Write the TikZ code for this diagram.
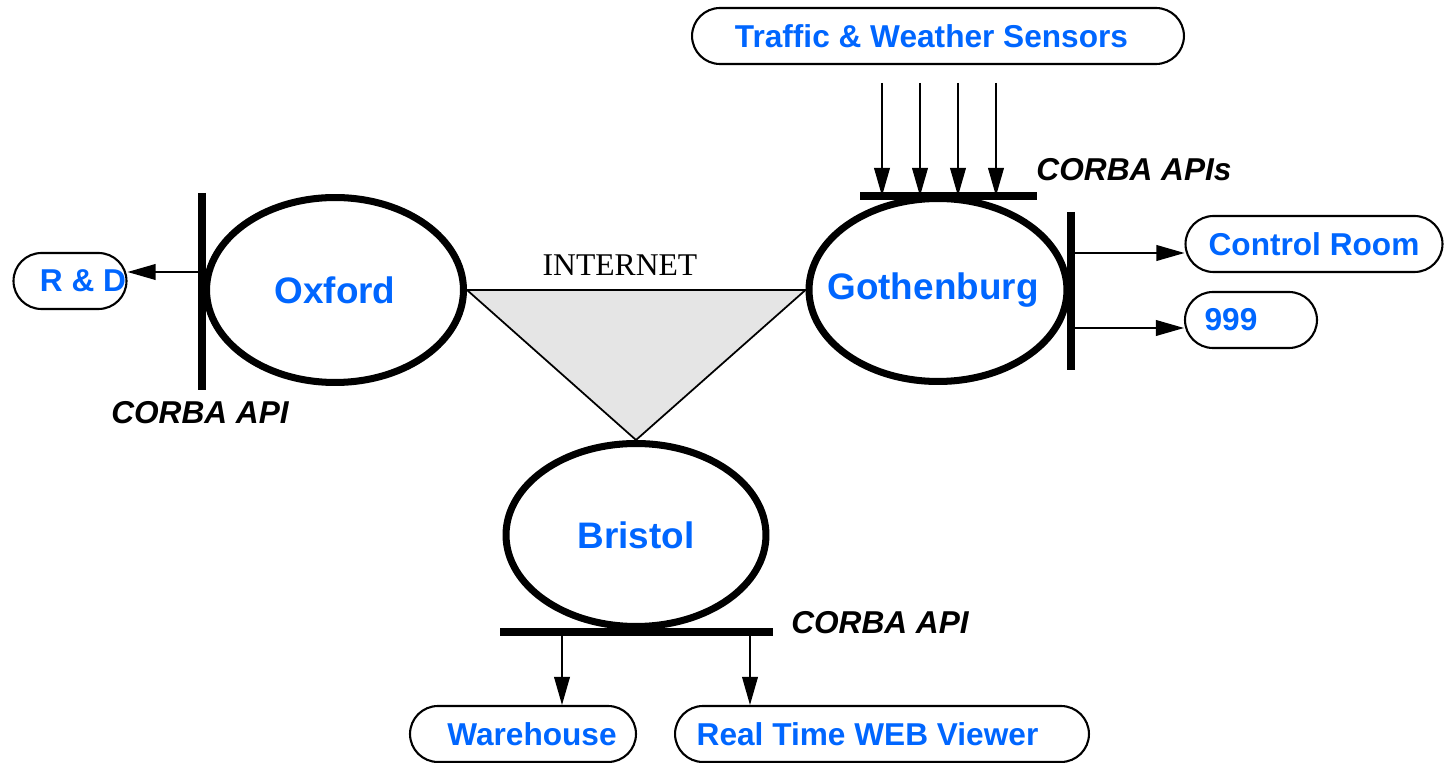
\documentclass[tikz,border=0pt]{standalone}
\usepackage{fontspec}
\setmainfont{Liberation Sans}
\newfontfamily\serifface{Liberation Serif}
\usetikzlibrary{positioning, shapes.geometric, arrows.meta}
\definecolor{siteblue}{RGB}{0,102,255}
\definecolor{netgray}{RGB}{229,229,229}
% text moved sideways inside its box, box size unchanged
\newcommand{\offtext}[2]{\hspace*{#1}#2\hspace*{-#1}}

\begin{document}
\begin{tikzpicture}[x=0.02cm, y=-0.02cm,
                sitenode/.style={ellipse, draw, line width=4pt, inner xsep=-10pt, text=siteblue, font=\bfseries\fontsize{21}{25}\selectfont},
                endbox/.style={rectangle, rounded corners=0.56cm, draw, line width=1.2pt, minimum height=1.12cm, text=siteblue, font=\bfseries\fontsize{18}{22}\selectfont},
                apibar/.style={line width=4pt},
                apilabel/.style={font=\bfseries\itshape\fontsize{18}{22}\selectfont},
                feed/.style={-{Triangle[length=16pt, width=9pt]}, line width=0.75pt},
                ]
                \useasboundingbox (0,0) rectangle (1445,763);
                %Nodes
                \node[sitenode, minimum width=5.14cm, minimum height=3.7cm]  (oxford)     at (335,290) {Oxford};
                \node[sitenode, minimum width=5.16cm, minimum height=3.66cm] (gothenburg) at (938,290) {\offtext{-0.1cm}{Gothenburg}};
                \node[sitenode, minimum width=5.2cm, minimum height=3.66cm]  (bristol)    at (636,535) {Bristol};

                \node[endbox, minimum width=2.26cm] (rd)      at (70,281)   {\offtext{0.26cm}{R \& D}};
                \node[endbox, minimum width=9.84cm] (sensors) at (938,36)   {\offtext{-0.13cm}{Traffic \& Weather Sensors}};
                \node[endbox, minimum width=5.14cm] (ctrl)    at (1314,244) {Control Room};
                \node[endbox, minimum width=2.64cm] (alarm)   at (1251,320) {\offtext{-0.4cm}{999}};
                \node[endbox, minimum width=4.52cm] (ware)    at (523,734)  {\offtext{0.18cm}{Warehouse}};
                \node[endbox, minimum width=8.28cm] (viewer)  at (882,734)  {\offtext{-0.29cm}{Real Time WEB Viewer}};

                \node[font=\serifface\fontsize{18}{22}\selectfont] (internet) at (620,265) {INTERNET};
                \node[apilabel] (oxapi)   at (200,413)  {CORBA API};
                \node[apilabel] (gothapi) at (1134,170) {CORBA APIs};
                \node[apilabel] (brisapi) at (880,623)  {CORBA API};

                %Internet
                \draw[fill=netgray, line width=1pt] (oxford.east) -- (gothenburg.west) -- (bristol.north) -- cycle;

                %Lines
                \coordinate (oxout)   at (202,272);
                \coordinate (gothtop) at (860,196);
                \coordinate (ctrlout) at (1071,253);
                \coordinate (alarmout) at (1071,328);
                \coordinate (wareout) at (562,632);
                \coordinate (viewout) at (750,632);

                \draw[feed] (oxout) -- (oxout -| rd.east);
                \foreach \x [count=\i] in {882,920,958,996} {
                    \coordinate (sensor\i) at (\x,83);
                    \draw[feed] (sensor\i) -- (sensor\i |- gothtop);
                }
                \draw[feed] (ctrlout) -- (ctrlout -| ctrl.west);
                \draw[feed] (alarmout) -- (alarmout -| alarm.west);
                \draw[feed] (wareout) -- (wareout |- ware.north);
                \draw[feed] (viewout) -- (viewout |- viewer.north);

                %API bars
                \draw[apibar] (202,193) -- (202,390);
                \draw[apibar] (gothtop) -- (1037,196);
                \draw[apibar] (1071,212) -- (1071,370);
                \draw[apibar] (500,632) -- (773,632);
\end{tikzpicture}
\end{document}
